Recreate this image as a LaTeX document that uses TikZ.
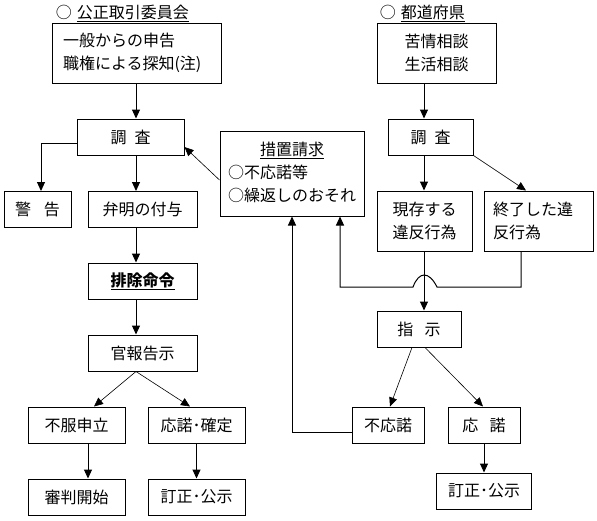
\documentclass[tikz,border=0pt]{standalone}
\usepackage{fontspec}
\setmainfont{Noto Sans CJK JP}
\usetikzlibrary{arrows.meta, calc}

\begin{document}
\begin{tikzpicture}[x=1pt, y=-1pt, line width=1pt,
    font=\fontsize{16}{23}\selectfont,
    box/.style={draw, inner sep=0pt, minimum height=36pt, align=center},
    arr/.style={-{Triangle[length=9pt,width=8pt]}},
    slant/.style={arr, line width=0.6pt}]
        \useasboundingbox (0,0) rectangle (597,520);

        \coordinate(lc) at (136,0);
        \coordinate(rc) at (424,0);
        \coordinate(jump) at (424,287);

        \node[anchor=west](ktitle) at (52,13) {○\hspace{5pt}\underline{公正取引委員会}};
        \node[box, minimum width=169pt, minimum height=60pt, text width=147pt, inner xsep=11pt, align=left](kshinkoku) at (136.5,53) {一般からの申告\\職権による探知(注)};
        \node[box, minimum width=107pt](kchosa) at (130.5,137) {調\hspace{.5em}査};
        \node[box, minimum width=67pt](keikoku) at (37.5,209.5) {警\hspace{.8em}告};
        \node[box, minimum width=109pt](kbenmei) at (142.5,209.5) {弁明の付与};
        \node[box, minimum width=109pt](khaijo) at (142.5,281) {\underline{\bfseries 排除命令}};
        \node[box, minimum width=109pt](kkanpo) at (142.5,353) {官報告示};
        \node[box, minimum width=97pt](kfufuku) at (76.5,425) {不服申立};
        \node[box, minimum width=97pt](koudaku) at (196.5,425) {応諾･確定};
        \node[box, minimum width=97pt](kshinpan) at (76.5,497) {審判開始};
        \node[box, minimum width=97pt](kteisei) at (196.5,497) {訂正･公示};

        \node[box, minimum width=144pt, minimum height=85pt](sochi) at (292,173.5) {\begin{tabular}{@{}l@{}}\multicolumn{1}{@{}c@{}}{\underline{措置請求}}\\○不応諾等\\○繰返しのおそれ\end{tabular}};

        \node[anchor=west](ptitle) at (376,13) {○\hspace{5pt}\underline{都道府県}};
        \node[box, minimum width=119pt, minimum height=60pt](pkujo) at (436.5,53) {苦情相談\\生活相談};
        \node[box, minimum width=85pt](pchosa) at (430.5,137) {調\hspace{.5em}査};
        \node[box, minimum width=95pt, minimum height=60pt](pgenson) at (424.5,221) {現存する\\違反行為};
        \node[box, minimum width=109pt, minimum height=60pt, text width=91pt, align=left](pshuryo) at (538.5,221) {終了した違\\反行為};
        \node[box, minimum width=84pt](pshiji) at (419,329) {指\hspace{.7em}示};
        \node[box, minimum width=72pt](pfuou) at (388,425) {不応諾};
        \node[box, minimum width=72pt](pouda) at (484,425) {応\hspace{.7em}諾};
        \node[box, minimum width=95pt](pteisei) at (484,491) {訂正･公示};

        \draw[arr] (kshinkoku.south -| lc) -- (kchosa.north -| lc);
        \draw[arr] ($(kchosa.west)+(0,6)$) -| ($(keikoku.north)+(3.5,0)$);
        \draw[arr] (kchosa.south -| lc) -- (kbenmei.north -| lc);
        \draw[arr] (kbenmei.south -| lc) -- (khaijo.north -| lc);
        \draw[arr] (khaijo.south -| lc) -- (kkanpo.north -| lc);
        \draw[slant] (kkanpo.south -| lc) -- ($(kfufuku.north)+(17.5,0)$);
        \draw[slant] (kkanpo.south -| lc) -- ($(koudaku.north)+(-6.5,0)$);
        \draw[arr] ($(kfufuku.south)+(11.5,0)$) -- ($(kshinpan.north)+(11.5,0)$);
        \draw[arr] (koudaku.south) -- (kteisei.north);

        \draw[slant] ($(sochi.west)+(0,6.5)$) -- ($(kchosa.east)+(0,10)$);

        \draw[arr] (pkujo.south -| rc) -- (pchosa.north -| rc);
        \draw[arr] (pchosa.south -| rc) -- (pgenson.north -| rc);
        \draw[slant] (pchosa.south east) -- ($(pshuryo.north)+(-12.5,0)$);
        \draw[arr] (pgenson.south -| rc) -- (pshiji.north -| rc);
        \draw[arr] ($(pshuryo.south)+(-17.5,0)$) |- ($(jump)+(13,0)$) .. controls ($(jump)+(5,-16)$) and ($(jump)+(-5,-16)$) .. ($(jump)+(-11,0)$) -| ($(sochi.south)+(48,0)$);
        \draw[slant] ($(pshiji.south)+(-7,0)$) -- ($(pfuou.north)+(2,0)$);
        \draw[slant] ($(pshiji.south)+(6,0)$) -- ($(pouda.north)+(-1,0)$);
        \draw[arr] (pouda.south) -- (pteisei.north);
        \draw[arr] ($(pfuou.west)+(0,7)$) -| (sochi.south);
\end{tikzpicture}
\end{document}
